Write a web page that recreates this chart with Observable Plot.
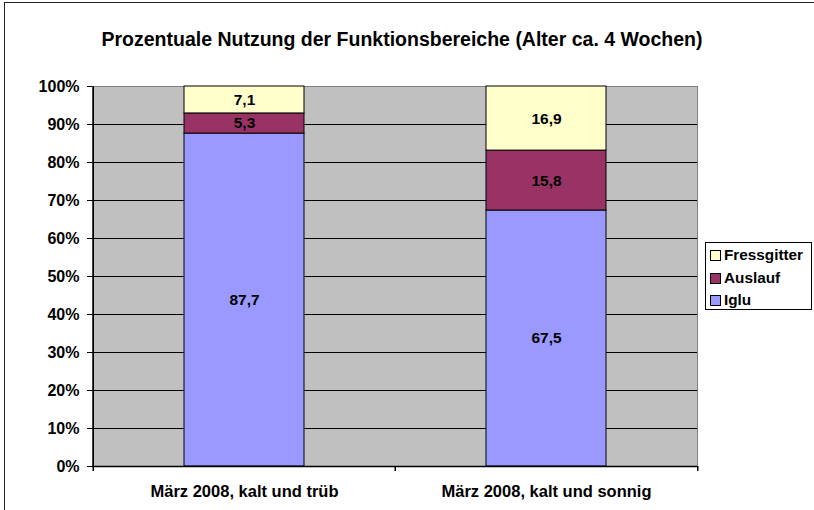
<!DOCTYPE html>
<html>
<head>
<meta charset="utf-8">
<script src="https://cdn.jsdelivr.net/npm/d3@7"></script>
<script src="https://cdn.jsdelivr.net/npm/@observablehq/plot@0.6"></script>
<style>
  html, body { margin: 0; padding: 0; background: #fff; overflow: hidden; }
  #wrap { position: relative; width: 814px; height: 510px; overflow: hidden; font-family: Arial, "Liberation Sans", sans-serif; font-weight: bold; color: #000; }
  #border { position: absolute; left: 4px; top: 2px; width: 820px; height: 520px; border-left: 1.5px solid #222; border-top: 1.5px solid #222; }
  #title { position: absolute; left: 0; width: 804px; top: 28px; text-align: center; font-size: 19.5px; white-space: nowrap; }
  #legend { position: absolute; left: 705px; top: 242px; width: 107px; height: 68px; border: 1px solid #000; box-sizing: border-box; background: #fff; }
  .item { position: absolute; left: 4px; height: 20px; font-size: 15.3px; line-height: 20px; white-space: nowrap; }
  .sw { display: inline-block; width: 9px; height: 9px; border: 1px solid #000; margin-right: 3px; vertical-align: -1px; }
  #chart { position: absolute; left: 0; top: 0; }
</style>
</head>
<body>
<div id="wrap">
  <div id="border"></div>
  <div id="chart"></div>
  <div id="title">Prozentuale Nutzung der Funktionsbereiche (Alter ca. 4 Wochen)</div>
  <div id="legend"></div>
</div>
<script>
// ---- data ----
const categories = ["März 2008, kalt und trüb", "März 2008, kalt und sonnig"];
const seriesNames = ["Iglu", "Auslauf", "Fressgitter"];
const iglu = [87.7, 67.5];
const auslauf = [5.3, 15.8];
const fressgitter = [7.1, 16.9];
const seriesColors = ["#9999FF", "#993366", "#FFFFCC"];
const yTicks = [0, 0.1, 0.2, 0.3, 0.4, 0.5, 0.6, 0.7, 0.8, 0.9, 1.0];

const seriesValues = [iglu, auslauf, fressgitter];
const data = [];
categories.forEach((c, i) => {
  seriesNames.forEach((s, j) => data.push({cat: c, series: s, value: seriesValues[j][i]}));
});

// ---- layout ----
const W = 814, H = 510;
const mL = 92, mR = 117, mT = 86, mB = 44;
const step = (W - mL - mR) / categories.length;
const fmt = v => d3.format(".1f")(v).replace(".", ",");

const chart = Plot.plot({
  width: W, height: H,
  marginLeft: mL, marginRight: mR, marginTop: mT, marginBottom: mB,
  style: {fontFamily: "Arial, 'Liberation Sans', sans-serif", fontWeight: "bold", fontSize: "16px", color: "#000", background: "transparent"},
  x: {domain: categories, paddingInner: 0.603, paddingOuter: 0.3015, align: 0.5, label: null},
  y: {domain: [0, 1], label: null},
  color: {domain: seriesNames, range: seriesColors},
  marks: [
    Plot.frame({fill: "#C0C0C0", stroke: "#808080"}),
    Plot.ruleY(yTicks.filter(t => t > 0 && t < 1), {stroke: "#000", strokeWidth: 1}),
    Plot.barY(data, {x: "cat", y: "value", fill: "series", offset: "normalize", stroke: "#000", strokeWidth: 1}),
    Plot.text(data, Plot.stackY({x: "cat", y: "value", z: "series", offset: "normalize", text: d => fmt(d.value), fontSize: 15.5, fontWeight: "bold", fill: "#000"})),
    Plot.ruleY([0], {stroke: "#000", strokeWidth: 1.5}),
    Plot.ruleX(categories, {x: d => d, dx: -step / 2, insetTop: H - mT - mB, insetBottom: -5, stroke: "#000", strokeWidth: 1.5}),
    Plot.ruleX([categories[categories.length - 1]], {x: d => d, dx: step / 2, insetTop: H - mT - mB, insetBottom: -5, stroke: "#000", strokeWidth: 1.5}),
    Plot.ruleX([categories[0]], {x: d => d, dx: -step / 2, stroke: "#000", strokeWidth: 1.5}),
    Plot.axisY({ticks: yTicks, tickFormat: d3.format(".0%"), tickSize: 5, tickPadding: 8, fontSize: 16, fontWeight: "bold"}),
    Plot.axisX({tickSize: 0, tickPadding: 19, fontSize: 16.5, fontWeight: "bold"})
  ]
});
document.getElementById("chart").appendChild(chart);

// ---- legend (top-to-bottom reversed, as in Excel) ----
const legend = document.getElementById("legend");
seriesNames.slice().reverse().forEach((s, k) => {
  const idx = seriesNames.indexOf(s);
  const it = document.createElement("div");
  it.className = "item";
  it.style.top = (2 + k * 22.5) + "px";
  const sw = document.createElement("span");
  sw.className = "sw";
  sw.style.background = seriesColors[idx];
  it.appendChild(sw);
  it.appendChild(document.createTextNode(s));
  legend.appendChild(it);
});
</script>
</body>
</html>
